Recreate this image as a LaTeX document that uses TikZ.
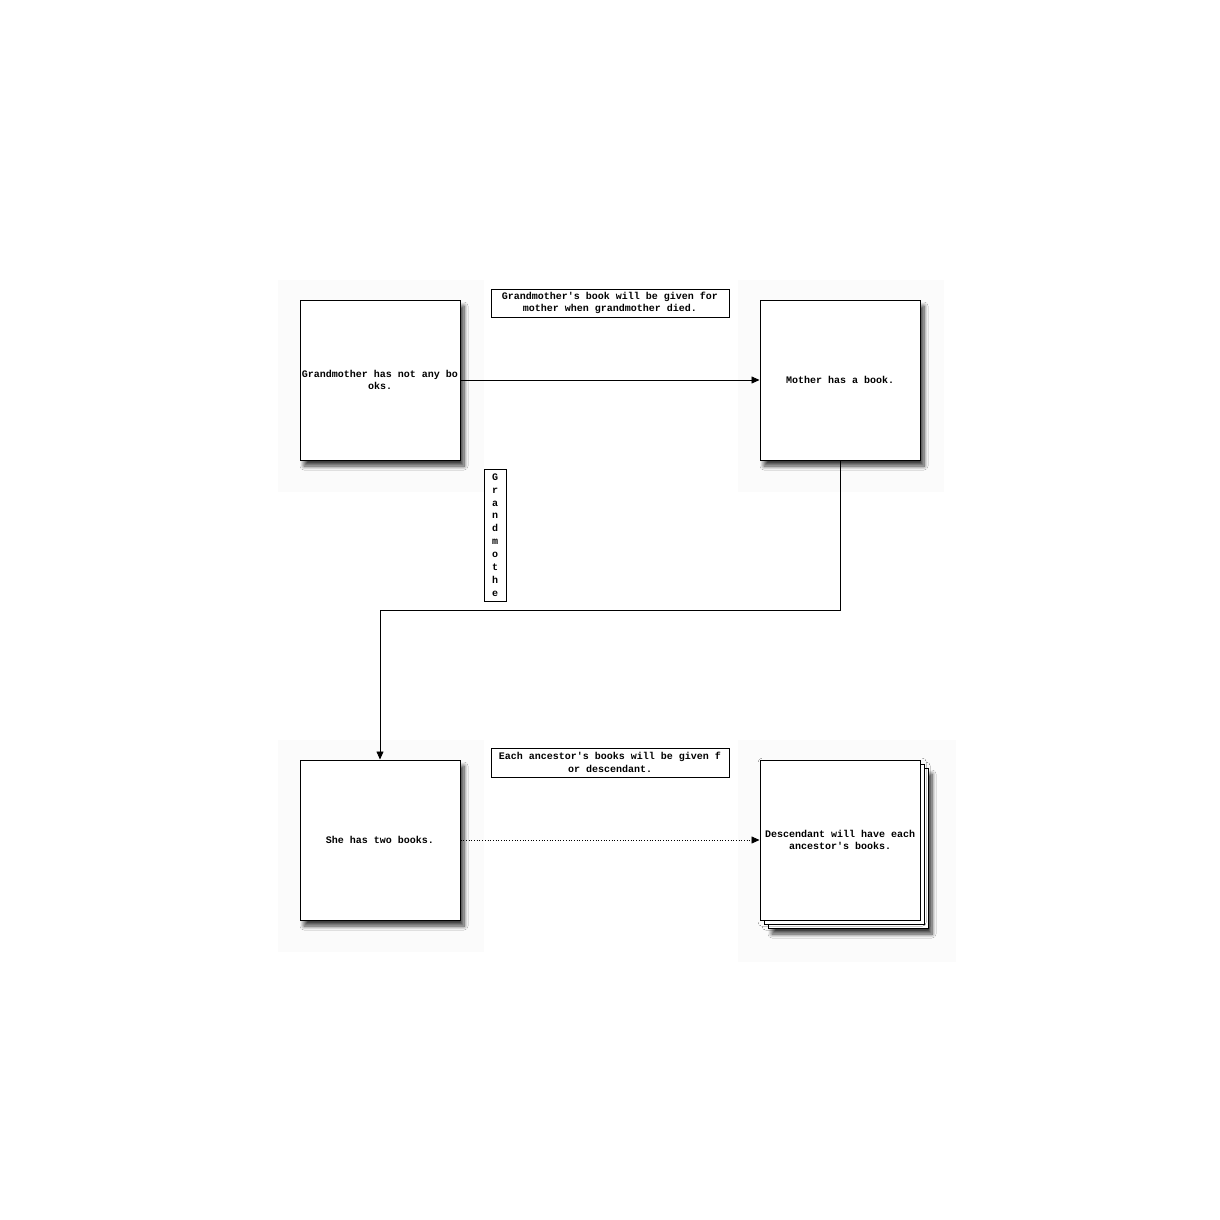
\documentclass[tikz,border=0pt]{standalone}
\usepackage{fontspec}
\setmonofont{Liberation Mono}
\usetikzlibrary{arrows.meta,shadows.blur}
\newcommand\monofnt[1]{\ttfamily\bfseries\fontsize{10}{#1}\selectfont\spaceskip=0.6em\relax}
\begin{document}
\begin{tikzpicture}[x=1pt,y=-1pt,
  box/.style={draw=black,fill=white,line width=1pt,minimum width=160pt,minimum height=160pt,
    inner sep=0pt,align=center,font=\monofnt{12.5},
    blur shadow={shadow xshift=4pt,shadow yshift=-6pt,shadow blur radius=4pt,shadow blur steps=8,shadow opacity=75}},
  noshadow/.style={blur shadow={shadow opacity=0}},
  lbl/.style={draw=black,fill=white,line width=0.7pt,inner sep=2pt,align=center,
    font=\monofnt{12.5}},
  glow/.style={fill=black!1.5,draw=none},
  conn/.style={line width=0.7pt,-{Triangle[length=8pt,width=7pt]}}]
\useasboundingbox (0,0) rectangle (1220,1220);
% faint backgrounds
\fill[glow] (278,280) rectangle (484,492);
\fill[glow] (738,280) rectangle (944,492);
\fill[glow] (278,740) rectangle (484,952);
\fill[glow] (738,740) rectangle (956,962);
% nodes
\node[box] (A) at (380,380) {Grandmother has not any bo\\oks.};
\node[box] (B) at (840,380) {Mother has a book.};
\node[box] (C) at (380,840) {She has two books.};
\node[box] (D3) at (848,848) {};
\node[box,noshadow] (D2) at (844,844) {};
\node[box,noshadow] (D) at (840,840) {Descendant will have each\\ancestor's books.};
\node[lbl,minimum width=238pt,minimum height=28pt] (L1) at (610,303) {Grandmother's book will be given for\\mother when grandmother died.};
\node[lbl,minimum width=238pt,minimum height=29pt] (L2) at (610,762.5) {Each ancestor's books will be given f\\or descendant.};
\node[lbl,minimum width=22pt,minimum height=132pt,inner sep=1pt,font=\monofnt{12.9}] (L3) at (495,535) {G\\r\\a\\n\\d\\m\\o\\t\\h\\e};
% connectors
\coordinate (k1) at (840,610);
\coordinate (k2) at (380,610);
\draw[conn] (A.east) -- (B.west);
\draw[conn] (B.south) -- (k1) -- (k2) -- (C.north);
\draw[conn,dotted] (C.east) -- (D.west);
\end{tikzpicture}
\end{document}
